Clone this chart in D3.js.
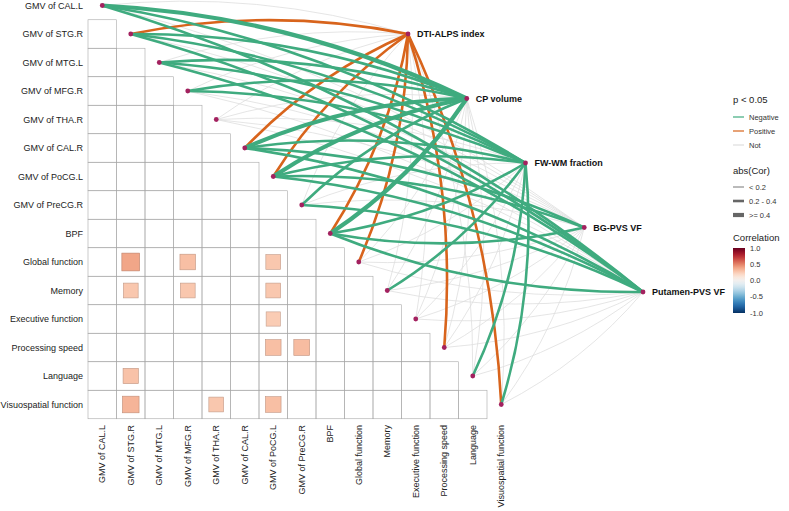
<!DOCTYPE html>
<html>
<head>
<meta charset="utf-8">
<script src="https://cdn.jsdelivr.net/npm/d3@7"></script>
<style>
  body { margin: 0; background: #fff; }
  text { font-family: "Liberation Sans", Arial, sans-serif; }
</style>
</head>
<body>
<svg width="789" height="511"></svg>
<script>
const vars = ["GMV of CAL.L", "GMV of STG.R", "GMV of MTG.L", "GMV of MFG.R", "GMV of THA.R",
  "GMV of CAL.R", "GMV of PoCG.L", "GMV of PreCG.R", "BPF", "Global function", "Memory",
  "Executive function", "Processing speed", "Language", "Visuospatial function"];
const envs = ["DTI-ALPS index", "CP volume", "FW-WM fraction", "BG-PVS VF", "Putamen-PVS VF"];

// significant pairwise correlations (lower triangle)
const cellRow = ["Global function", "Global function", "Global function", "Memory", "Memory", "Memory",
  "Executive function", "Processing speed", "Processing speed", "Language",
  "Visuospatial function", "Visuospatial function", "Visuospatial function"];
const cellCol = ["GMV of STG.R", "GMV of MFG.R", "GMV of PoCG.L", "GMV of STG.R", "GMV of MFG.R", "GMV of PoCG.L",
  "GMV of PoCG.L", "GMV of PoCG.L", "GMV of PreCG.R", "GMV of STG.R",
  "GMV of STG.R", "GMV of THA.R", "GMV of PoCG.L"];
const cellR = [0.39, 0.30, 0.27, 0.27, 0.27, 0.27, 0.25, 0.30, 0.31, 0.29, 0.34, 0.27, 0.30];

// mantel links, one string per env, one char per var: n = negative, p = positive, . = not
const linkSign = [
  ".p...pp.pp..p.p",
  "nnnn.nnnn......",
  "nnnn.nn.n.n..nn",
  ".....nn.n......",
  "nnn..nnnn......"
];
// abs(Cor) class: 0 = < 0.2, 1 = 0.2 - 0.4, 2 = >= 0.4
const linkSize = [
  "010001101100101",
  "211102212000000",
  "111101101010011",
  "000001101000000",
  "111001111000000"
];

const signLabels = ["Negative", "Positive", "Not"];
const sizeLabels = ["< 0.2", "0.2 - 0.4", ">= 0.4"];
const barTicks = [1, 0.5, 0, -0.5, -1];

const svg = d3.select("svg");
const cell = 28.5;

const x = d3.scaleBand().domain(vars).range([88, 88 + cell * vars.length]);
const y = d3.scaleBand().domain(vars).range([-8.75, -8.75 + cell * vars.length]);
const ex = d3.scalePoint().domain(envs).range([408, 643]);
const ey = d3.scalePoint().domain(envs).range([34, 292]);
const fill = d3.scaleSequential(d3.interpolateRdBu).domain([1, -1]);
const linkColor = d3.scaleOrdinal().domain(["n", "p", "."]).range(["#3fab7f", "#d8641c", "#dedede"]);
const linkWidth = d3.scaleOrdinal().domain([0, 1, 2]).range([0.9, 2.6, 4.2]);

// grid
const gridCells = [];
vars.forEach((r, i) => vars.forEach((c, j) => { if (j < i) gridCells.push({ r, c }); }));
svg.append("g").selectAll("rect").data(gridCells).join("rect")
  .attr("x", d => x(d.c)).attr("y", d => y(d.r))
  .attr("width", cell).attr("height", cell)
  .attr("fill", "none").attr("stroke", "#a8a8a8").attr("stroke-width", 0.6);

// squares
const cells = cellR.map((r, i) => ({ r, row: cellRow[i], col: cellCol[i] }));
svg.append("g").selectAll("rect").data(cells).join("rect")
  .attr("x", d => x(d.col) + cell / 2 - Math.sqrt(Math.abs(d.r)) * cell / 2)
  .attr("y", d => y(d.row) + cell / 2 - Math.sqrt(Math.abs(d.r)) * cell / 2)
  .attr("width", d => Math.sqrt(Math.abs(d.r)) * cell)
  .attr("height", d => Math.sqrt(Math.abs(d.r)) * cell)
  .attr("fill", d => fill(d.r))
  .attr("stroke", d => d3.color(fill(d.r)).darker(0.7))
  .attr("stroke-width", 0.6);

// links
const links = [];
envs.forEach((e, ei) => vars.forEach((v, vi) => links.push({
  env: e, v, vi, sign: linkSign[ei][vi], size: +linkSize[ei][vi]
})));
links.sort((a, b) => (a.sign === "." ? 0 : 1) - (b.sign === "." ? 0 : 1));

// curves bend outward: upper half one way, lower half the other
function curve(d) {
  const x1 = ex(d.env), y1 = ey(d.env);
  const x2 = x(d.v) + cell / 2, y2 = y(d.v) + cell / 2;
  const dx = x2 - x1, dy = y2 - y1;
  const k = d.vi <= 7 ? 0.1 : -0.1;
  const cx = (x1 + x2) / 2 - k * dy, cy = (y1 + y2) / 2 + k * dx;
  return `M${x1},${y1}Q${cx},${cy} ${x2},${y2}`;
}

svg.append("g").selectAll("path").data(links).join("path")
  .attr("d", curve)
  .attr("fill", "none")
  .attr("stroke", d => linkColor(d.sign))
  .attr("stroke-width", d => d.sign === "." ? 0.8 : linkWidth(d.size));

// nodes
svg.append("g").selectAll("circle").data(vars).join("circle")
  .attr("cx", d => x(d) + cell / 2).attr("cy", d => y(d) + cell / 2)
  .attr("r", 2.4).attr("fill", "#a3215f");
svg.append("g").selectAll("circle").data(envs).join("circle")
  .attr("cx", d => ex(d)).attr("cy", d => ey(d))
  .attr("r", 2.4).attr("fill", "#a3215f");
svg.append("g").selectAll("text").data(envs).join("text")
  .attr("x", d => ex(d) + 9).attr("y", d => ey(d))
  .attr("dy", "0.35em").attr("font-size", 9).attr("font-weight", "bold")
  .attr("fill", "#111").text(d => d);

// axis labels
svg.append("g").selectAll("text").data(vars).join("text")
  .attr("x", 83).attr("y", d => y(d) + cell / 2).attr("dy", "0.35em")
  .attr("text-anchor", "end").attr("font-size", 9).attr("fill", "#222").text(d => d);
svg.append("g").selectAll("text").data(vars).join("text")
  .attr("transform", d => `translate(${x(d) + cell / 2},425) rotate(-90)`)
  .attr("dy", "0.35em").attr("text-anchor", "end")
  .attr("font-size", 9).attr("fill", "#222").text(d => d);

// legend
const lg = svg.append("g").attr("transform", "translate(733,0)");
lg.append("text").attr("x", 0).attr("y", 103).attr("font-size", 9.5).attr("fill", "#222").text("p < 0.05");
signLabels.forEach((s, i) => {
  const yy = 117 + i * 14;
  lg.append("line").attr("x1", 0).attr("x2", 11).attr("y1", yy).attr("y2", yy)
    .attr("stroke", linkColor(["n", "p", "."][i])).attr("stroke-width", 1.2);
  lg.append("text").attr("x", 16).attr("y", yy).attr("dy", "0.35em")
    .attr("font-size", 7.5).attr("fill", "#333").text(s);
});
lg.append("text").attr("x", 0).attr("y", 174).attr("font-size", 9.5).attr("fill", "#222").text("abs(Cor)");
sizeLabels.forEach((s, i) => {
  const yy = 187 + i * 14;
  lg.append("line").attr("x1", 0).attr("x2", 11).attr("y1", yy).attr("y2", yy)
    .attr("stroke", "#666").attr("stroke-width", linkWidth(i));
  lg.append("text").attr("x", 16).attr("y", yy).attr("dy", "0.35em")
    .attr("font-size", 7.5).attr("fill", "#333").text(s);
});
lg.append("text").attr("x", 0).attr("y", 241).attr("font-size", 9.5).attr("fill", "#222").text("Correlation");
const grad = svg.append("defs").append("linearGradient").attr("id", "cbar")
  .attr("x1", 0).attr("x2", 0).attr("y1", 0).attr("y2", 1);
d3.range(0, 1.001, 0.05).forEach(t => grad.append("stop")
  .attr("offset", t).attr("stop-color", fill(1 - 2 * t)));
const bar = d3.scaleLinear().domain([1, -1]).range([248, 313]);
lg.append("rect").attr("x", 0).attr("y", 248).attr("width", 12).attr("height", 65).attr("fill", "url(#cbar)");
lg.selectAll(".tick").data(barTicks).join("text")
  .attr("x", 17).attr("y", d => bar(d)).attr("dy", "0.35em")
  .attr("font-size", 7.5).attr("fill", "#333").text(d => d.toFixed(1));
</script>
</body>
</html>
